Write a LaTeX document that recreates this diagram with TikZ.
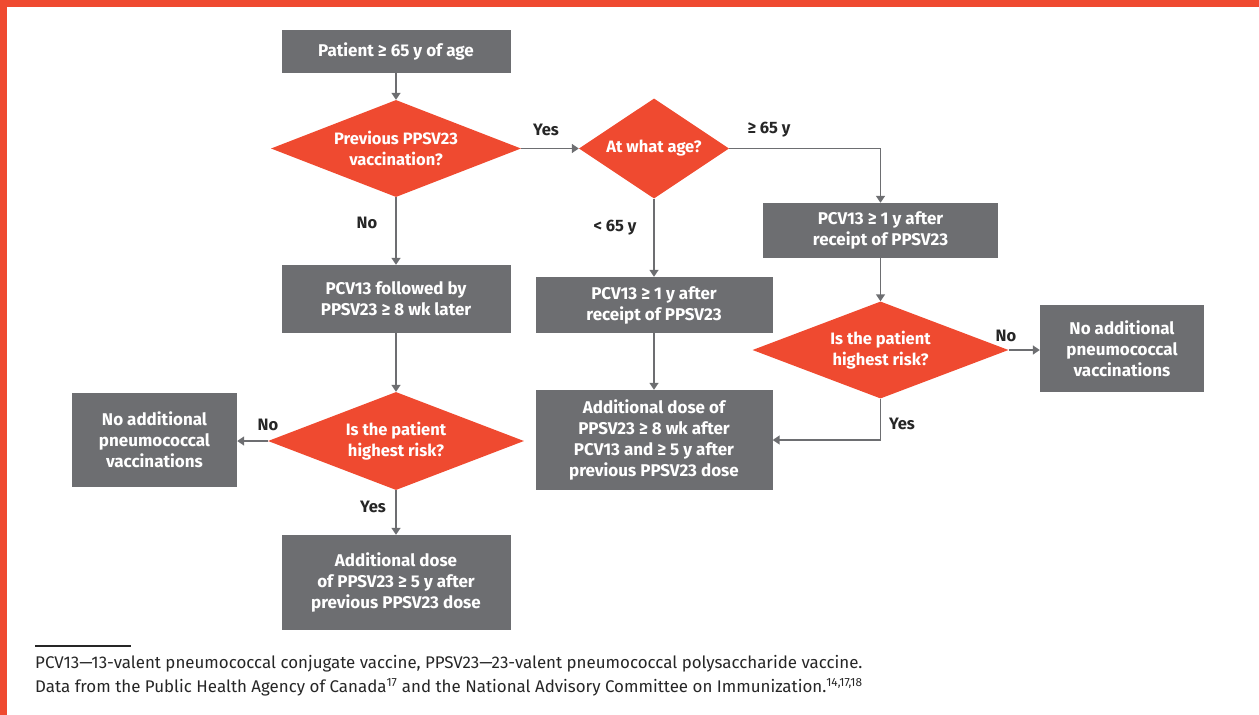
\documentclass[tikz,border=0pt]{standalone}
\usepackage{fontspec}
\setmainfont{Fira Sans}
\usetikzlibrary{shapes.geometric,arrows.meta}
\definecolor{boxgray}{HTML}{6D6E71}
\definecolor{cfporange}{HTML}{EF4A30}
\begin{document}
\begin{tikzpicture}[x=1pt,y=-1pt,
  box/.style={fill=boxgray, text=white, font=\bfseries\fontsize{17}{21}\selectfont, align=center, inner sep=0pt},
  dia/.style={diamond, fill=cfporange, text=white, font=\bfseries\fontsize{16.5}{21}\selectfont, align=center, inner sep=0pt},
  conn/.style={draw=boxgray, line width=1.6pt, -{Triangle[length=7pt,width=9pt]}},
  lab/.style={font=\bfseries\fontsize{16.5}{18}\selectfont, text=black!85, inner sep=0pt}]
\useasboundingbox (0,0) rectangle (1259,715);
\fill[cfporange] (0,0) rectangle (1259,7);
\fill[cfporange] (0,0) rectangle (7,715);
% nodes
\node[box, minimum width=229pt, minimum height=43pt] (start) at (396,51.5) {Patient ≥ 65 y of age};
\node[dia, aspect=2.58, minimum width=250pt, minimum height=97pt] (d1) at (396,148.5) {Previous PPSV23\\vaccination?};
\node[dia, aspect=1.5, minimum width=150pt, minimum height=100pt] (d2) at (654,148.5) {At what age?};
\node[box, minimum width=235pt, minimum height=55pt] (bR1) at (880.5,230.5) {PCV13 ≥ 1 y after\\receipt of PPSV23};
\node[dia, aspect=2.64, minimum width=256pt, minimum height=97pt] (d3) at (880.5,350) {Is the patient\\highest risk?};
\node[box, minimum width=164pt, minimum height=87pt] (noR) at (1122,348.5) {No additional\\pneumococcal\\vaccinations};
\node[box, minimum width=237pt, minimum height=56pt] (bM1) at (654,305) {PCV13 ≥ 1 y after\\receipt of PPSV23};
\node[box, minimum width=237pt, minimum height=100pt] (bM2) at (654,440) {Additional dose of\\PPSV23 ≥ 8 wk after\\PCV13 and ≥ 5 y after\\previous PPSV23 dose};
\node[box, minimum width=229pt, minimum height=68pt] (bL1) at (396,299) {PCV13 followed by\\PPSV23 ≥ 8 wk later};
\node[dia, aspect=2.61, minimum width=256pt, minimum height=98pt] (d4) at (396,441) {Is the patient\\highest risk?};
\node[box, minimum width=165pt, minimum height=94pt] (noL) at (154.5,440) {No additional\\pneumococcal\\vaccinations};
\node[box, minimum width=229pt, minimum height=95pt] (bL2) at (396,582.5) {Additional dose\\of PPSV23 ≥ 5 y after\\previous PPSV23 dose};
% connectors
\draw[conn] (start) -- (d1);
\draw[conn] (d1.east) -- (d2.west);
\draw[conn] (d2.east) -| (bR1.north);
\draw[conn] (bR1) -- (d3);
\draw[conn] (d3.east) -- (d3.east -| noR.west);
\draw[conn] (d3.south) |- (bM2.east);
\draw[conn] (d2.south) -- (bM1.north);
\draw[conn] (bM1) -- (bM2);
\draw[conn] (d1) -- (bL1);
\draw[conn] (bL1) -- (d4);
\draw[conn] (d4.west) -- (d4.west -| noL.east);
\draw[conn] (d4) -- (bL2);
% labels
\node[lab] (l1) at (546,130) {Yes};
\node[lab] (l2) at (769,130) {≥ 65 y};
\node[lab] (l3) at (615,228) {< 65 y};
\node[lab] (l4) at (367,223) {No};
\node[lab] (l5) at (1006,336) {No};
\node[lab] (l6) at (902,424) {Yes};
\node[lab] (l7) at (268,425) {No};
\node[lab] (l8) at (373,507) {Yes};
% footnote
\coordinate (r1) at (35,646);
\coordinate (r2) at (131,646);
\draw[line width=1.2pt, black!85] (r1) -- (r2);
\node[anchor=west, inner sep=0pt, align=left, font=\fontsize{16.9}{24}\selectfont, text=black!85] (fn) at (35,676) {PCV13—13-valent pneumococcal conjugate vaccine, PPSV23—23-valent pneumococcal polysaccharide vaccine.\\Data from the Public Health Agency of Canada\textsuperscript{17} and the National Advisory Committee on Immunization.\textsuperscript{14,17,18}};
\end{tikzpicture}
\end{document}
